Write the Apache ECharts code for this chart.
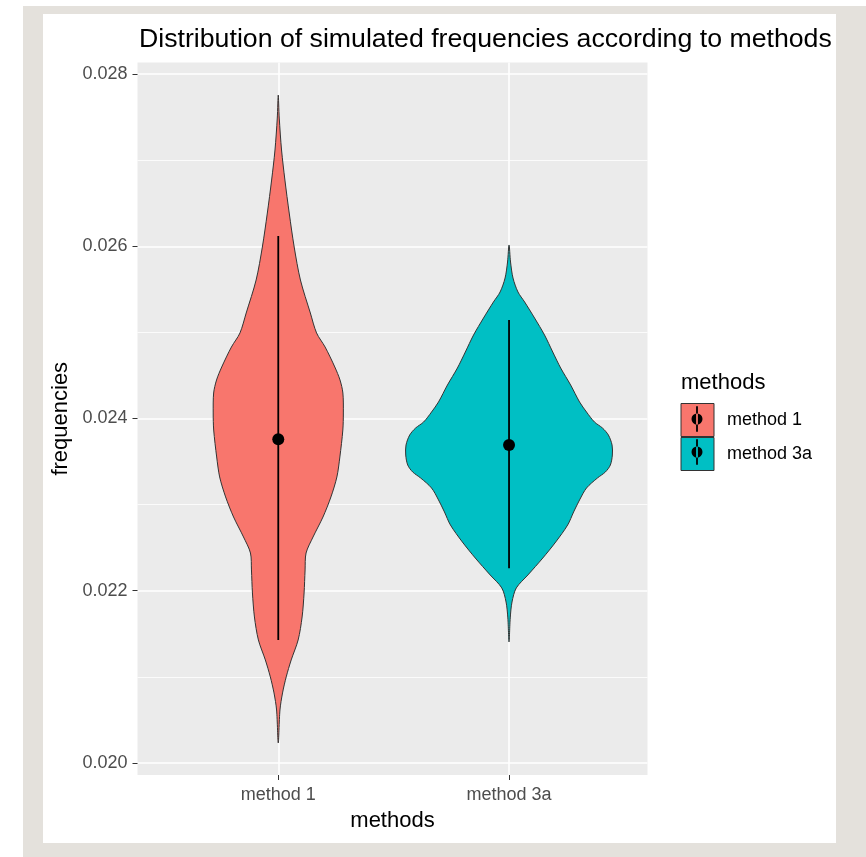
<!DOCTYPE html>
<html>
<head>
<meta charset="utf-8">
<script src="https://cdn.jsdelivr.net/npm/echarts@6/dist/echarts.min.js"></script>
<style>
  html, body { margin: 0; padding: 0; background: #ffffff; }
  #frame { position: absolute; left: 23px; top: 6px; width: 843px; height: 851px; background: #E4E1DC; }
  #inner { position: absolute; left: 43px; top: 14px; width: 793px; height: 829px; background: #ffffff; }
  #chart { position: absolute; left: 0; top: 0; width: 866px; height: 857px; }
</style>
</head>
<body>
<div id="frame"></div>
<div id="inner"></div>
<div id="chart"></div>
<script>
// ---- data ----
const categories = ['method 1', 'method 3a'];
const seriesColors = ['#F8766D', '#00BFC4'];

// violin outlines: frequency levels and half-widths (category units)
const freq1 = [0.027756, 0.027489, 0.027118, 0.026769, 0.026386, 0.025991, 0.025608, 0.025225, 0.024993, 0.024830,
               0.024598, 0.024447, 0.024296, 0.024064, 0.023866, 0.023553, 0.023321, 0.023089, 0.022856, 0.022624,
               0.022438, 0.022241, 0.021974, 0.021695, 0.021428, 0.021196, 0.020999, 0.020813, 0.020615, 0.020232];
const width1 = [0, 0.0043, 0.0142, 0.0288, 0.0474, 0.0690, 0.0960, 0.1390, 0.1660, 0.2030,
                0.2450, 0.2675, 0.2800, 0.2820, 0.2798, 0.2669, 0.2540, 0.2282, 0.1937, 0.1507,
                0.1205, 0.1162, 0.1119, 0.1033, 0.0861, 0.0560, 0.0344, 0.0185, 0.0073, 0];

const freq2 = [0.026015, 0.025817, 0.025631, 0.025469, 0.025353, 0.025167, 0.024970, 0.024772, 0.024586, 0.024389,
               0.024192, 0.024075, 0.023959, 0.023890, 0.023808, 0.023692, 0.023576, 0.023460, 0.023379, 0.023309,
               0.023193, 0.023054, 0.022914, 0.022763, 0.022566, 0.022380, 0.022183, 0.022032, 0.021869, 0.021684, 0.021405];
const width2 = [0, 0.0065, 0.0172, 0.0387, 0.0676, 0.1106, 0.1537, 0.1894, 0.2238, 0.2669,
                0.3056, 0.3358, 0.3702, 0.4046, 0.4305, 0.4464, 0.4477, 0.4391, 0.4176, 0.3831,
                0.3358, 0.3056, 0.2798, 0.2540, 0.2023, 0.1464, 0.0818, 0.0314, 0.0129, 0.0052, 0];

// point ranges
const means  = [0.023758, 0.023692];
const lowers = [0.021428, 0.022261];
const uppers = [0.026119, 0.025144];

// axis ticks
const yTicks = [0.020, 0.022, 0.024, 0.026, 0.028];
const yMinorTicks = [0.021, 0.023, 0.025, 0.027];
const xTicks = [1, 2];

const profiles = [{ freq: freq1, width: width1 }, { freq: freq2, width: width2 }];

function makeRender(k) {
  return function (params, api) {
    const x = xTicks[k];
    const p = profiles[k];
    const n = p.freq.length;
    const pts = [];
    for (let i = 0; i < n; i++) pts.push(api.coord([x + p.width[i], p.freq[i]]));
    for (let i = n - 2; i >= 1; i--) pts.push(api.coord([x - p.width[i], p.freq[i]]));
    const top = api.coord([x, uppers[k]]);
    const bot = api.coord([x, lowers[k]]);
    const mid = api.coord([x, means[k]]);
    return {
      type: 'group',
      children: [
        { type: 'polygon', shape: { points: pts, smooth: 0.3 },
          style: { fill: seriesColors[k], stroke: '#333333', lineWidth: 1 } },
        { type: 'line', shape: { x1: top[0], y1: top[1], x2: bot[0], y2: bot[1] },
          style: { stroke: '#000000', lineWidth: 1.8 } },
        { type: 'circle', shape: { cx: mid[0], cy: mid[1], r: 6 },
          style: { fill: '#000000' } }
      ]
    };
  };
}

const FONT = 'Liberation Sans, Arial, sans-serif';
const glyphIcon = 'path://M0,0h0.01v0.01h-0.01Z M32.99,32.99h0.01v0.01h-0.01Z ' +
  'M15.6,3.3h1.8v25.4h-1.8Z M11,16a5.5,5.5 0 1,0 11,0a5.5,5.5 0 1,0 -11,0Z';

const chart = echarts.init(document.getElementById('chart'), null, { renderer: 'canvas' });
chart.setOption({
  animation: false,
  textStyle: { fontFamily: FONT },
  title: [
    { text: 'Distribution of simulated frequencies according to methods',
      left: 139, top: 26, padding: 0,
      textStyle: { fontFamily: FONT, fontSize: 26.7, fontWeight: 'normal', color: '#000000' } },
    { text: 'methods', left: 681, top: 372, padding: 0,
      textStyle: { fontFamily: FONT, fontSize: 22, fontWeight: 'normal', color: '#000000' } }
  ],
  legend: [
    { orient: 'vertical', left: 680.5, top: 403, padding: 0, itemWidth: 33, itemHeight: 33, itemGap: 0,
      icon: 'rect', selectedMode: false, data: categories,
      itemStyle: { borderColor: '#333333', borderWidth: 1 },
      textStyle: { fontFamily: FONT, fontSize: 18, color: '#000000', padding: [0, 0, 0, 8] } },
    { orient: 'vertical', left: 680.5, top: 403, padding: 0, itemWidth: 33, itemHeight: 33, itemGap: 0,
      icon: glyphIcon, selectedMode: false, data: categories,
      itemStyle: { color: '#000000', borderWidth: 0 },
      formatter: function () { return ''; },
      textStyle: { fontSize: 18, color: 'rgba(0,0,0,0)' } }
  ],
  grid: { left: 137.5, right: 218.5, top: 62.5, bottom: 82, show: true, backgroundColor: '#EBEBEB', borderWidth: 0 },
  xAxis: {
    type: 'value', min: 0.39, max: 2.6,
    name: 'methods', nameLocation: 'middle', nameGap: 35,
    nameTextStyle: { fontFamily: FONT, fontSize: 22, color: '#000000' },
    axisLine: { show: false },
    axisTick: { show: true, length: 5, customValues: xTicks, lineStyle: { color: '#333333', width: 1 } },
    axisLabel: { customValues: xTicks, margin: 11, fontFamily: FONT, fontSize: 18, color: '#4D4D4D',
      formatter: function (v) { return categories[Math.round(v) - 1] || ''; } },
    splitLine: { show: true, lineStyle: { color: '#FFFFFF', width: 1.6 } }
  },
  yAxis: [
    { type: 'value', min: 0.01986, max: 0.028134,
      name: 'frequencies', nameLocation: 'middle', nameGap: 58,
      nameTextStyle: { fontFamily: FONT, fontSize: 22, color: '#000000' },
      axisLine: { show: false },
      axisTick: { show: true, length: 5, customValues: yTicks, lineStyle: { color: '#333333', width: 1 } },
      axisLabel: { customValues: yTicks, margin: 10, fontFamily: FONT, fontSize: 18, color: '#4D4D4D',
        formatter: function (v) { return v.toFixed(3); } },
      splitLine: { show: true, lineStyle: { color: '#FFFFFF', width: 1.6 } } },
    { type: 'value', min: 0.01986, max: 0.028134, position: 'right',
      axisLine: { show: false },
      axisTick: { show: false, customValues: yMinorTicks },
      axisLabel: { show: false, customValues: yMinorTicks },
      splitLine: { show: true, lineStyle: { color: '#FFFFFF', width: 0.8 } } }
  ],
  series: categories.map(function (name, k) {
    return {
      type: 'custom', name: name, xAxisIndex: 0, yAxisIndex: 0,
      itemStyle: { color: seriesColors[k] },
      renderItem: makeRender(k),
      data: [[xTicks[k], means[k]]],
      z: 5
    };
  })
});
</script>
</body>
</html>
